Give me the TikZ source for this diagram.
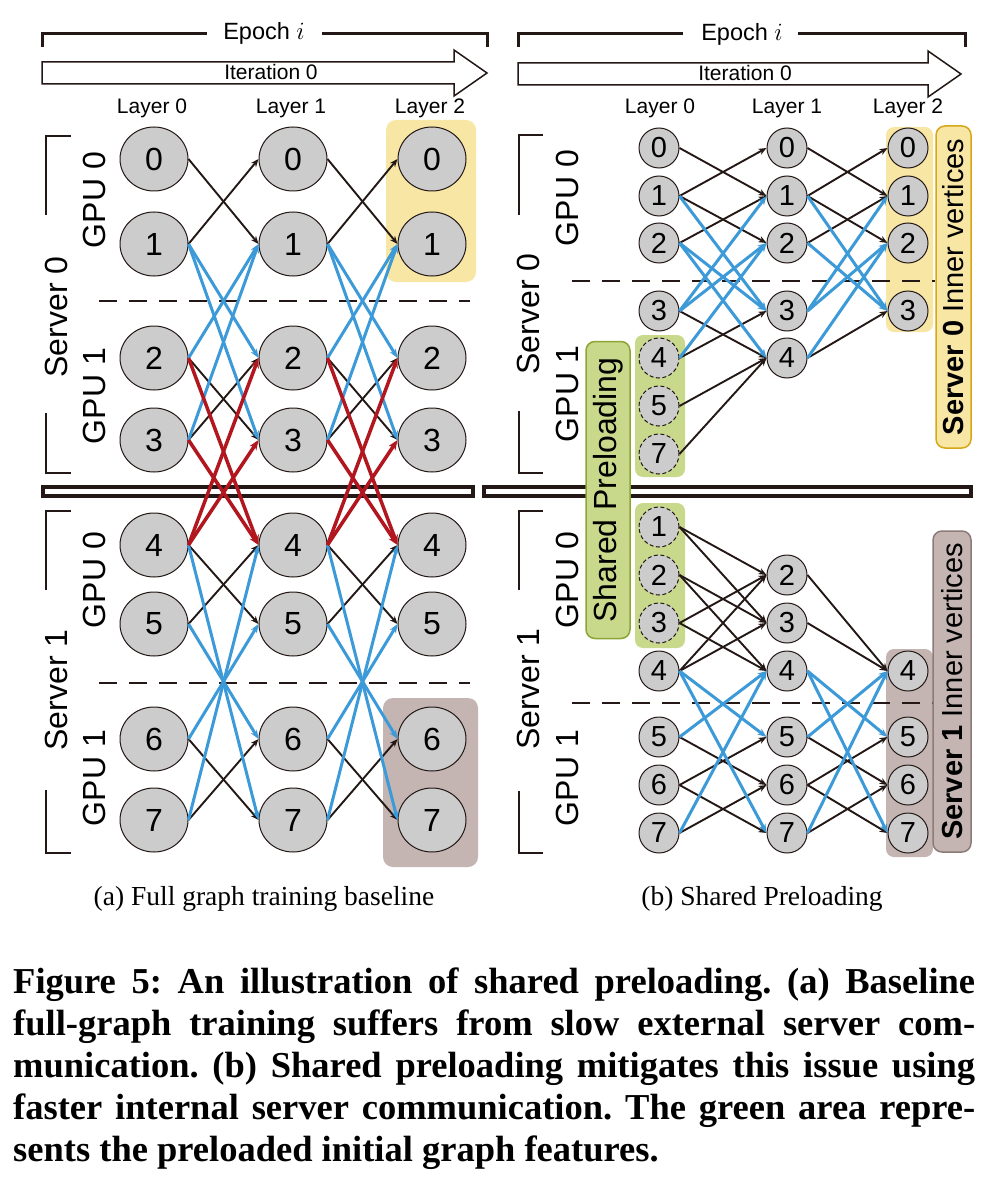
\documentclass[tikz,border=0pt]{standalone}
\usepackage{fontspec}
\setmainfont{Liberation Serif}
\setsansfont{Liberation Sans}
\usetikzlibrary{arrows.meta,shapes.geometric}
\definecolor{ndark}{HTML}{231815}
\definecolor{nodegray}{HTML}{CCCCCC}
\definecolor{eblue}{HTML}{3C9AD8}
\definecolor{ered}{HTML}{B2161E}
\definecolor{ybox}{HTML}{F8E6A5}
\definecolor{bbox}{HTML}{C4B5B3}
\definecolor{gbox}{HTML}{C8D98B}
\definecolor{gborder}{HTML}{8DA534}
\definecolor{yborder}{HTML}{D6A716}
\definecolor{bborder}{HTML}{8C7B77}
\frenchspacing
\begin{document}
\begin{tikzpicture}[x=1pt,y=-1pt,
  va/.style={ellipse, draw=ndark, line width=1pt, fill=nodegray, minimum width=68pt, minimum height=64pt, inner sep=0pt, font=\sffamily\fontsize{32}{32}\selectfont},
  vb/.style={circle, draw=ndark, line width=1pt, fill=nodegray, minimum size=40pt, inner sep=0pt, font=\sffamily\fontsize{29}{29}\selectfont},
  pre/.style={dash pattern=on 4pt off 2.5pt},
  eblk/.style={draw=ndark, line width=1.9pt, -{Stealth[length=8pt,width=6.5pt]}},
  eblu/.style={draw=eblue, line width=3pt, -{Stealth[length=9pt,width=7pt]}},
  ered/.style={draw=ered, line width=3.5pt, -{Stealth[length=10pt,width=8pt]}},
  lbl/.style={font=\sffamily\fontsize{21}{21}\selectfont, inner sep=0pt},
  vlbl/.style={rotate=90, font=\sffamily\fontsize{32}{32}\selectfont, inner sep=0pt},
  brk/.style={line width=2pt, draw=ndark},
  divline/.style={dash pattern=on 18pt off 12pt, line width=2.2pt, draw=ndark},
  hl/.style={rounded corners=10pt},
  capl/.style={anchor=base west, inner sep=0pt, font=\rmfamily\bfseries\fontsize{36.5}{42}\selectfont}
]
\useasboundingbox[fill=white] (0,0) rectangle (993,1190);

% ---------- headers ----------
\draw[line width=3pt, ndark] (42,47) -- (42,34) -- (207,34);
\draw[line width=3pt, ndark] (322,34) -- (487,34) -- (487,47);
\node[font=\sffamily\fontsize{23.5}{23.5}\selectfont, anchor=base, inner sep=0] (epa) at (264,40) {Epoch $i$};
\draw[line width=1.5pt, draw=ndark, fill=white] (42,62) -- (454,62) -- (454,50) -- (487,73) -- (454,96) -- (454,84) -- (42,84) -- cycle;
\node[lbl, anchor=base] (ita) at (271,80) {Iteration 0};

\draw[line width=3pt, ndark] (518,47) -- (518,34) -- (683,34);
\draw[line width=3pt, ndark] (798,34) -- (965,34) -- (965,47);
\node[font=\sffamily\fontsize{23.5}{23.5}\selectfont, anchor=base, inner sep=0] (epb) at (742,41) {Epoch $i$};
\draw[line width=1.5pt, draw=ndark, fill=white] (518,63) -- (928,63) -- (928,51) -- (961,74) -- (928,97) -- (928,85) -- (518,85) -- cycle;
\node[lbl, anchor=base] (itb) at (745,81) {Iteration 0};

\node[lbl, anchor=base] (la0) at (152,114) {Layer 0};
\node[lbl, anchor=base] (la1) at (291,114) {Layer 1};
\node[lbl, anchor=base] (la2) at (430,114) {Layer 2};
\node[lbl, anchor=base] (lb0) at (660,114) {Layer 0};
\node[lbl, anchor=base] (lb1) at (787,114) {Layer 1};
\node[lbl, anchor=base] (lb2) at (908,114) {Layer 2};

% ---------- server dividers ----------
\draw[line width=3.5pt, draw=ndark, fill=white] (43,487) rectangle (473,496);
\draw[line width=3.5pt, draw=ndark, fill=white] (484,487) rectangle (971,496);

% ---------- side labels panel a ----------
\draw[brk] (71,136) -- (46,136) -- (46,215);
\draw[brk] (46,413) -- (46,473) -- (71,473);
\draw[brk] (71,511) -- (46,511) -- (46,590);
\draw[brk] (46,790) -- (46,853) -- (71,853);
\node[vlbl] (sa0) at (56,317) {Server 0};
\node[vlbl] (ga00) at (94,200) {GPU 0};
\node[vlbl] (ga01) at (94,396) {GPU 1};
\node[vlbl] (sa1) at (56,690) {Server 1};
\node[vlbl] (ga10) at (94,580) {GPU 0};
\node[vlbl] (ga11) at (94,778) {GPU 1};

% ---------- side labels panel b ----------
\draw[brk] (543,135) -- (519,135) -- (519,215);
\draw[brk] (519,411) -- (519,473) -- (543,473);
\draw[brk] (543,511) -- (519,511) -- (519,590);
\draw[brk] (519,791) -- (519,853) -- (543,853);
\node[vlbl] (sb0) at (528,314) {Server 0};
\node[vlbl] (gb00) at (567,198) {GPU 0};
\node[vlbl] (gb01) at (567,394) {GPU 1};
\node[vlbl] (sb1) at (528,689) {Server 1};
\node[vlbl] (gb10) at (567,580) {GPU 0};
\node[vlbl] (gb11) at (567,778) {GPU 1};

% ---------- highlight boxes ----------
\fill[ybox, hl] (386,120) rectangle (476,282);
\fill[bbox, hl] (383,698) rectangle (478,867);
\fill[ybox, rounded corners=8pt] (886,127) rectangle (933,332);
\fill[bbox, rounded corners=8pt] (886,649) rectangle (933,857);
\fill[gbox, rounded corners=8pt] (635,335) rectangle (685,477);
\fill[gbox, rounded corners=8pt] (635,503) rectangle (685,648);

% ---------- GPU dividers ----------
\draw[divline] (99,301) -- (470,301);
\draw[divline] (99,683) -- (470,683);
\draw[divline] (572,281) -- (935,281);
\draw[divline] (572,703) -- (935,703);

% ---------- side boxes panel b ----------
\node[rotate=90, draw=gborder, fill=gbox, line width=1.5pt, rounded corners=9pt, minimum width=297pt, minimum height=44pt, inner sep=0pt, font=\sffamily\fontsize{32}{32}\selectfont] (shp) at (608,490) {Shared Preloading};
\node[rotate=90, draw=yborder, fill=ybox, line width=1.5pt, rounded corners=9pt, minimum width=322pt, minimum height=35pt, inner sep=0pt, font=\sffamily\fontsize{29}{29}\selectfont] (in0) at (953.5,287) {\textbf{Server 0} Inner vertices};
\node[rotate=90, draw=bborder, fill=bbox, line width=1.5pt, rounded corners=9pt, minimum width=321pt, minimum height=38pt, inner sep=0pt, font=\sffamily\fontsize{29}{29}\selectfont] (in1) at (952,691.5) {\textbf{Server 1} Inner vertices};

% ---------- nodes panel a ----------
\foreach \L/\X in {0/154,1/293,2/432}
  \foreach \v/\Y in {0/159,1/244,2/358,3/440,4/545,5/624,6/739,7/820}
    \node[va] (a\L\v) at (\X,\Y) {\v};

% ---------- nodes panel b ----------
\foreach \v/\Y/\st in {0/148/solid,1/196/solid,2/243/solid,3/311/solid,4/358/pre,5/406/pre,7/454/pre}
  \node[vb,\st] (t0\v) at (659,\Y) {\v};
\foreach \v/\Y in {0/148,1/196,2/243,3/311,4/358}
  \node[vb] (t1\v) at (787,\Y) {\v};
\foreach \v/\Y in {0/148,1/196,2/243,3/311}
  \node[vb] (t2\v) at (908,\Y) {\v};
\foreach \v/\Y/\st in {1/527/pre,2/575/pre,3/623/pre,4/671/solid,5/737/solid,6/785/solid,7/833/solid}
  \node[vb,\st] (u0\v) at (659,\Y) {\v};
\foreach \v/\Y in {2/575,3/623,4/671,5/737,6/785,7/833}
  \node[vb] (u1\v) at (787,\Y) {\v};
\foreach \v/\Y in {4/671,5/737,6/785,7/833}
  \node[vb] (u2\v) at (908,\Y) {\v};

% ---------- edges panel a ----------
\foreach \L/\M in {0/1,1/2}{
  \foreach \s/\t in {0/1,1/0,2/3,3/2,4/5,5/4,6/7,7/6}
    \draw[eblk] (a\L\s.east) -- (a\M\t.west);
  \foreach \s/\t in {1/2,1/3,2/1,3/1,4/7,7/4,5/6,6/5}
    \draw[eblu] (a\L\s.east) -- (a\M\t.west);
  \foreach \s/\t in {2/4,3/4,4/2,4/3}
    \draw[ered] (a\L\s.east) -- (a\M\t.west);
}

% ---------- edges panel b, server 0 ----------
\foreach \s/\t in {1/0,0/1,2/1,1/2,4/3,3/4,5/4,7/4}
  \draw[eblk] (t0\s.east) -- (t1\t.west);
\foreach \s/\t in {3/1,3/2,4/2,1/3,2/3,2/4}
  \draw[eblu] (t0\s.east) -- (t1\t.west);
\foreach \s/\t in {1/0,0/1,2/1,1/2,4/3}
  \draw[eblk] (t1\s.east) -- (t2\t.west);
\foreach \s/\t in {3/1,3/2,4/2,1/3,2/3}
  \draw[eblu] (t1\s.east) -- (t2\t.west);

% ---------- edges panel b, server 1 ----------
\foreach \s/\t in {1/2,3/2,4/2,1/3,2/3,4/3,2/4,3/4,6/5,5/6,7/6,6/7}
  \draw[eblk] (u0\s.east) -- (u1\t.west);
\foreach \s/\t in {5/4,7/4,4/5,4/7}
  \draw[eblu] (u0\s.east) -- (u1\t.west);
\foreach \s/\t in {2/4,3/4,6/5,5/6,7/6,6/7}
  \draw[eblk] (u1\s.east) -- (u2\t.west);
\foreach \s/\t in {5/4,7/4,4/5,4/7}
  \draw[eblu] (u1\s.east) -- (u2\t.west);

% ---------- captions ----------
\node[anchor=base, inner sep=0pt, font=\rmfamily\fontsize{27.5}{30}\selectfont] (capa) at (264,905) {(a) Full graph training baseline};
\node[anchor=base, inner sep=0pt, font=\rmfamily\fontsize{27.5}{30}\selectfont] (capb) at (762,905) {(b) Shared Preloading};

\node[capl] (fc1) at (13,993) {\makebox[962pt][s]{Figure 5: An illustration of shared preloading. (a) Baseline}};
\node[capl] (fc2) at (13,1035) {\makebox[962pt][s]{full-graph training suffers from slow external server com-}};
\node[capl] (fc3) at (13,1077) {\makebox[962pt][s]{munication. (b) Shared preloading mitigates this issue using}};
\node[capl] (fc4) at (13,1119) {\makebox[962pt][s]{faster internal server communication. The green area repre-}};
\node[capl] (fc5) at (13,1161) {sents the preloaded initial graph features.};
\end{tikzpicture}
\end{document}
